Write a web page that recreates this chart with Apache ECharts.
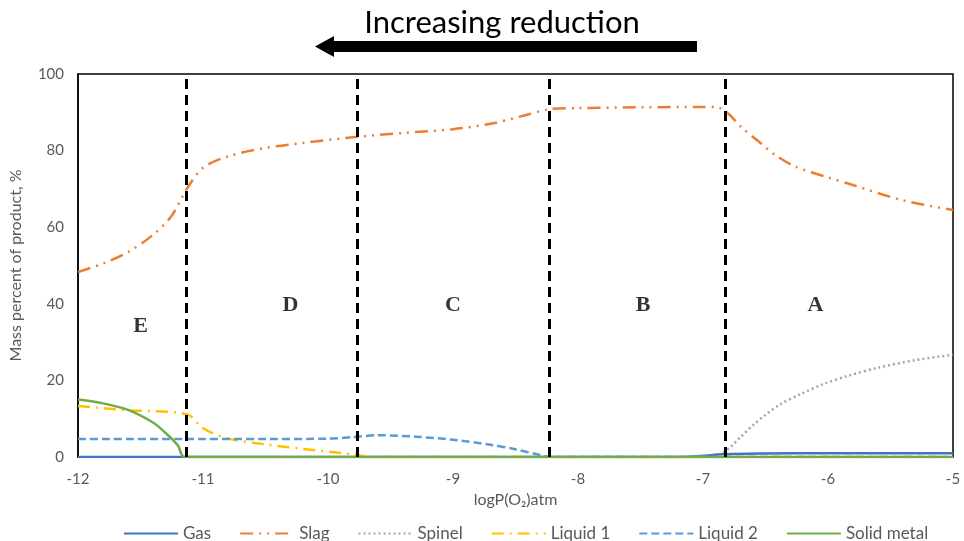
<!DOCTYPE html>
<html><head><meta charset="utf-8">
<script src="https://cdn.jsdelivr.net/npm/echarts@6/dist/echarts.min.js"></script>
<style>html,body{margin:0;padding:0;background:#fff}#c{width:964px;height:541px}</style>
</head><body><div id="c"></div>
<script>
// Data (x = logP(O2) atm, y = mass %)
const gas = [[-12,0],[-10,0],[-8,0],[-7.2,0],[-7.0,0.3],[-6.85,0.7],[-6.5,0.9],[-6.0,1.0],[-5.5,1.0],[-5.0,1.0]];
const slag = [[-12,48.3],[-11.8,50.5],[-11.6,53.5],[-11.4,58],[-11.25,63],[-11.13,70],[-11.0,75.5],[-10.8,78.5],[-10.5,80.7],[-10.2,82],[-9.8,83.5],[-9.4,84.6],[-9.0,85.6],[-8.7,87],[-8.45,89],[-8.23,90.8],[-8.0,91.1],[-7.5,91.3],[-7.0,91.4],[-6.9,91.4],[-6.81,90],[-6.69,86],[-6.54,82],[-6.43,79],[-6.26,75.8],[-6.0,73],[-5.8,71],[-5.4,67],[-5.0,64.5]];
const spinel = [[-6.86,0],[-6.84,1.0],[-6.77,2.9],[-6.7,5.2],[-6.6,8.3],[-6.5,11.0],[-6.38,13.8],[-6.22,16.4],[-6.04,19.0],[-5.84,21.2],[-5.6,23.3],[-5.3,25.3],[-5.0,26.7]];
const liquid1 = [[-12,13.3],[-11.6,12.2],[-11.13,11.2],[-11.0,7.5],[-10.8,4.8],[-10.5,3.3],[-10.2,2.1],[-9.8,0.7],[-9.65,0],[-8,0],[-7,0],[-6,0],[-5,0]];
const liquid2 = [[-12,4.7],[-11,4.7],[-10.5,4.7],[-10.0,4.8],[-9.8,5.2],[-9.6,5.7],[-9.3,5.3],[-9.0,4.5],[-8.7,3.2],[-8.5,2.0],[-8.3,0.5],[-8.23,0],[-7,0],[-6,0],[-5,0]];
const solidMetal = [[-12,15],[-11.8,14],[-11.6,12.3],[-11.4,9],[-11.3,6.3],[-11.2,3],[-11.15,0],[-10,0],[-8,0],[-7,0],[-6,0],[-5,0]];
const boundaries = [-11.13, -9.77, -8.23, -6.82];
const regionNames = ['E','D','C','B','A'];
const regionX = [-11.5, -10.3, -9.0, -7.48, -6.1];
const regionY = [34.0, 39.7, 39.7, 39.7, 39.7];
const xTicks = {min:-12, max:-5, interval:1};
const yTicks = {min:0, max:100, interval:20};

const chart = echarts.init(document.getElementById('c'));
const font = 'Lato, "Liberation Sans", sans-serif';
function line(name, data, color, type, width){
  return {name, type:'line', data, showSymbol:false, symbol:'none', smooth:0.3,
    lineStyle:{color, type, width}, itemStyle:{color}, z:3};
}
chart.setOption({
  animation:false,
  textStyle:{fontFamily:font},
  grid:{left:78, right:11, top:74, bottom:84, show:true, borderColor:'#000', borderWidth:1.5},
  title:{text:'Increasing reduction', left:497, top:2, textAlign:'center',
    textStyle:{fontFamily:font, fontSize:31, fontWeight:'normal', color:'#000'}},
  graphic:[{type:'polygon', shape:{points:[[697,41],[334,41],[334,36],[315,46.5],[334,57],[334,52],[697,52]]}, style:{fill:'#000'}}],
  legend:{bottom:-6, left:118, itemWidth:54, itemHeight:10, itemGap:28,
    itemStyle:{opacity:0},
    data:['Gas','Slag','Spinel','Liquid 1','Liquid 2','Solid metal'],
    textStyle:{fontFamily:font, fontSize:17, color:'#595959'}},
  xAxis:{type:'value', min:xTicks.min, max:xTicks.max, interval:xTicks.interval,
    name:'logP(O\u2082)atm', nameLocation:'middle', nameGap:34,
    nameTextStyle:{fontFamily:font, fontSize:16, color:'#595959'},
    axisLine:{show:false}, axisTick:{show:false}, splitLine:{show:false},
    axisLabel:{color:'#595959', fontSize:15, margin:15, fontFamily:font}},
  yAxis:{type:'value', min:yTicks.min, max:yTicks.max, interval:yTicks.interval,
    name:'Mass percent of product, %', nameLocation:'middle', nameGap:54,
    nameTextStyle:{fontFamily:font, fontSize:16, color:'#595959'},
    axisLine:{show:true, lineStyle:{color:'#000', width:1.5}}, axisTick:{show:false}, splitLine:{show:false},
    axisLabel:{color:'#595959', fontSize:15, margin:14, fontFamily:font}},
  series:[
    line('Gas', gas, '#4472c4', 'solid', 2.5),
    line('Slag', slag, '#ed7d31', [13,6,2,6,2,6], 2.5),
    line('Spinel', spinel, '#a5a5a5', [2,3], 2.5),
    line('Liquid 1', liquid1, '#ffc000', [12,6,2,6], 2.5),
    line('Liquid 2', liquid2, '#5b9bd5', [8,4], 2.5),
    Object.assign(line('Solid metal', solidMetal, '#70ad47', 'solid', 2.5), {
      markLine:{silent:true, symbol:'none', label:{show:false},
        lineStyle:{color:'#000', type:[10,6], width:3},
        data: boundaries.map(v=>({xAxis:v}))}}),
    {name:'regions', type:'scatter', symbolSize:0, silent:true,
      data: regionNames.map((n,i)=>({name:n, value:[regionX[i], regionY[i]]})),
      label:{show:true, position:'inside', formatter:'{b}', fontFamily:'"Liberation Serif", serif', fontWeight:'bold', fontSize:22, color:'#000'}}
  ]
});
</script></body></html>
